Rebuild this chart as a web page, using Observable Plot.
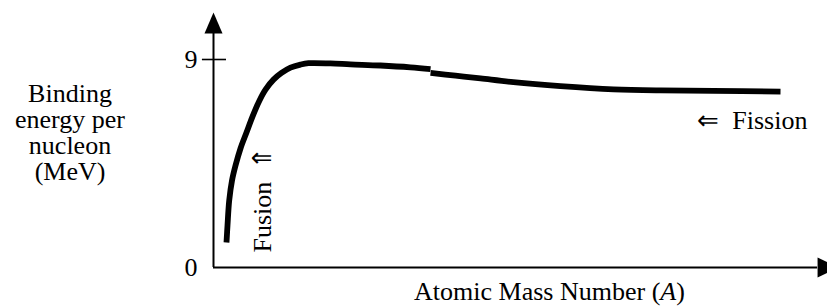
<!DOCTYPE html>
<html><head><meta charset="utf-8">
<script src="https://cdn.jsdelivr.net/npm/d3@7"></script>
<script src="https://cdn.jsdelivr.net/npm/@observablehq/plot@0.6"></script>
<style>html,body{margin:0;padding:0;background:#fff;overflow:hidden}</style>
</head><body><div id="chart"></div>
<script>
// Binding energy curve (A = mass number units, E = MeV)
const fusionA = [5.50, 5.93, 6.65, 7.83, 9.32, 11.43, 13.97, 16.51, 19.48, 22.02, 25.41, 28.80, 32.61, 36.84, 40.23, 49.5, 58.0, 70.7, 83.4, 91.9];
const fusionE = [1.08, 1.82, 2.90, 3.76, 4.41, 5.15, 5.84, 6.53, 7.23, 7.70, 8.13, 8.42, 8.65, 8.78, 8.84, 8.83, 8.79, 8.74, 8.66, 8.58];
const fissionA = [91.9, 102.5, 113.1, 127.0, 146.9, 169.4, 189.3, 211.7, 240.1];
const fissionE = [8.42, 8.30, 8.18, 8.02, 7.85, 7.71, 7.66, 7.64, 7.61];
const tickValues = [0, 9];
const tickLabels = ["0", "9"];
const yLabel = "Binding\nenergy per\nnucleon\n(MeV)";
const xLabel = "Atomic Mass Number (A)";
const fusionLabel = "Fusion  \u21D1";
const fissionLabel = "\u21D0  Fission";

const curve = [
  ...fusionA.map((a, i) => ({A: a, E: fusionE[i], seg: "fusion"})),
  ...fissionA.map((a, i) => ({A: a, E: fissionE[i], seg: "fission"}))
];

const arrowUp = {draw(ctx) { ctx.moveTo(0, -21); ctx.lineTo(9, 0); ctx.lineTo(-9, 0); ctx.closePath(); }};
const arrowRight = {draw(ctx) { ctx.moveTo(21, 0); ctx.lineTo(0, -10); ctx.lineTo(0, 10); ctx.closePath(); }};

const font = "'Liberation Serif', 'Times New Roman', Times, serif";
const yTop = 10.125, xEnd = 255.8;

const chart = Plot.plot({
  width: 827,
  height: 306,
  marginLeft: 213,
  marginRight: 0,
  marginTop: 59,
  marginBottom: 39,
  style: {fontFamily: font, background: "#fff", overflow: "hidden"},
  x: {domain: [0, 260], axis: null},
  y: {domain: [0, 9], axis: null},
  marks: [
    Plot.ruleX([0], {y1: 0, y2: yTop, stroke: "black", strokeWidth: 2}),
    Plot.ruleY([0], {x1: 0, x2: xEnd, stroke: "black", strokeWidth: 2}),
    Plot.dot([0], {x: 0, y: () => yTop, symbol: arrowUp, fill: "black", stroke: null, r: 5}),
    Plot.dot([0], {x: () => xEnd, y: 0, symbol: arrowRight, fill: "black", stroke: null, r: 5}),
    Plot.ruleY([9], {x1: -4.7, x2: 5.5, stroke: "black", strokeWidth: 1.6}),
    Plot.text(tickValues, {x: () => 0, y: d => d, text: (d, i) => tickLabels[i], textAnchor: "end", dx: -16, fontSize: 26, fill: "black"}),
    Plot.line(curve, {x: "A", y: "E", z: "seg", curve: "catmull-rom", stroke: "black", strokeWidth: 5.8, strokeLinecap: "butt", strokeLinejoin: "round"}),
    Plot.text([fusionLabel], {x: () => 20.7, y: () => 0.65, rotate: -90, textAnchor: "start", fontSize: 26, fill: "black"}),
    Plot.text([fissionLabel], {x: () => 251.5, y: () => 6.36, textAnchor: "end", fontSize: 26, fill: "black"}),
    Plot.text([yLabel], {frameAnchor: "top-left", dx: -143.5, dy: 73, lineAnchor: "middle", lineHeight: 1, textAnchor: "middle", fontSize: 26, fill: "black"}),
    Plot.text([xLabel], {frameAnchor: "bottom", dx: 29, dy: 24.5, lineAnchor: "middle", textAnchor: "middle", fontSize: 26, fill: "black"})
  ]
});
document.getElementById("chart").appendChild(chart);

// italic A in the x-axis title
d3.select(chart).selectAll("text").filter(function() { return this.textContent === xLabel; }).each(function() {
  const t = d3.select(this);
  t.text(null);
  t.append("tspan").text("Atomic Mass Number (");
  t.append("tspan").attr("font-style", "italic").text("A");
  t.append("tspan").text(")");
});
</script>
</body></html>
